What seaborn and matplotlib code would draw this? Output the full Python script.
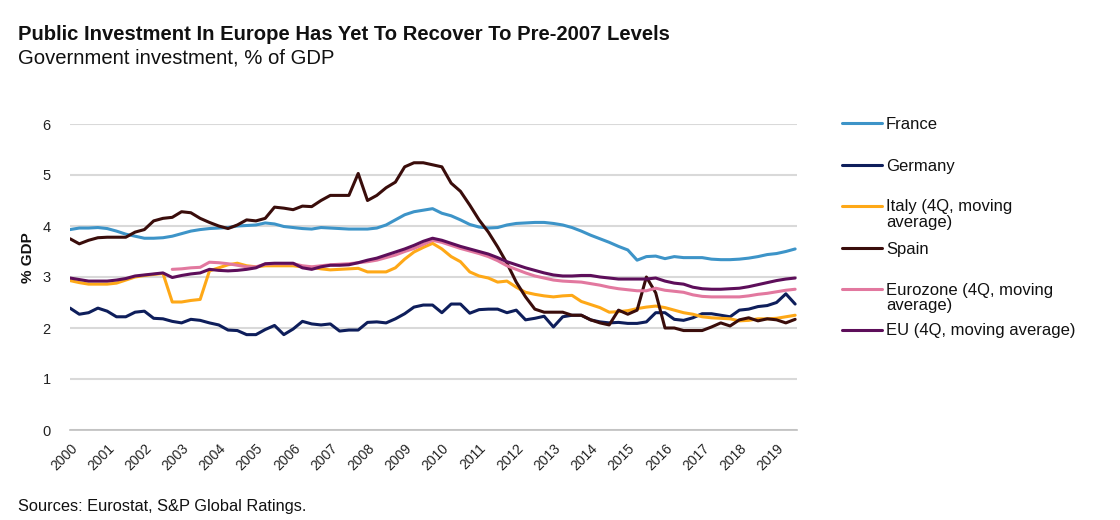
import numpy as np
import pandas as pd
import matplotlib
matplotlib.use("Agg")
import matplotlib.pyplot as plt
import seaborn as sns

# ============================================
# DATA: government investment, % of GDP (quarterly, 2000Q1 - 2019Q3)
# ============================================

quarters = pd.period_range("2000Q1", "2019Q3", freq="Q")

france = [3.93, 3.96, 3.96, 3.97, 3.95, 3.90, 3.84, 3.80, 3.76, 3.76, 3.77, 3.80, 3.85, 3.90, 3.93, 3.95,
          3.96, 3.97, 4.00, 4.01, 4.02, 4.06, 4.04, 3.99, 3.97, 3.95, 3.94, 3.97, 3.96, 3.95, 3.94, 3.94,
          3.94, 3.96, 4.02, 4.12, 4.22, 4.28, 4.31, 4.34, 4.25, 4.20, 4.12, 4.03, 3.98, 3.96, 3.97, 4.02,
          4.05, 4.06, 4.07, 4.07, 4.05, 4.02, 3.97, 3.90, 3.82, 3.75, 3.68, 3.60, 3.53, 3.33, 3.40, 3.41,
          3.36, 3.40, 3.38, 3.38, 3.38, 3.35, 3.34, 3.34, 3.35, 3.37, 3.40, 3.44, 3.46, 3.50, 3.55]

germany = [2.39, 2.27, 2.30, 2.39, 2.33, 2.22, 2.22, 2.31, 2.33, 2.19, 2.18, 2.13, 2.10, 2.17, 2.15, 2.10,
           2.06, 1.96, 1.95, 1.87, 1.87, 1.97, 2.05, 1.87, 1.98, 2.13, 2.08, 2.06, 2.08, 1.94, 1.96, 1.96,
           2.11, 2.12, 2.10, 2.18, 2.28, 2.41, 2.45, 2.45, 2.30, 2.47, 2.47, 2.29, 2.36, 2.37, 2.37, 2.30,
           2.35, 2.16, 2.19, 2.23, 2.02, 2.22, 2.25, 2.25, 2.16, 2.12, 2.10, 2.11, 2.09, 2.09, 2.12, 2.30,
           2.30, 2.17, 2.15, 2.20, 2.28, 2.28, 2.25, 2.22, 2.35, 2.37, 2.42, 2.44, 2.50, 2.67, 2.47]

italy = [2.93, 2.89, 2.86, 2.86, 2.86, 2.88, 2.94, 3.00, 3.03, 3.05, 3.07, 2.51, 2.51, 2.54, 2.56, 3.12,
         3.18, 3.24, 3.27, 3.22, 3.20, 3.22, 3.22, 3.22, 3.22, 3.20, 3.19, 3.16, 3.14, 3.15, 3.16, 3.17,
         3.10, 3.10, 3.10, 3.18, 3.35, 3.49, 3.58, 3.66, 3.55, 3.40, 3.30, 3.10, 3.02, 2.98, 2.90, 2.92,
         2.80, 2.70, 2.66, 2.63, 2.61, 2.63, 2.64, 2.52, 2.46, 2.40, 2.31, 2.32, 2.34, 2.38, 2.41, 2.43,
         2.40, 2.35, 2.30, 2.27, 2.22, 2.20, 2.19, 2.18, 2.14, 2.15, 2.18, 2.18, 2.19, 2.22, 2.25]

spain = [3.75, 3.65, 3.72, 3.77, 3.78, 3.78, 3.78, 3.88, 3.93, 4.10, 4.15, 4.17, 4.28, 4.26, 4.15, 4.07,
         4.00, 3.95, 4.02, 4.12, 4.10, 4.15, 4.37, 4.35, 4.32, 4.39, 4.38, 4.50, 4.60, 4.60, 4.60, 5.03,
         4.50, 4.60, 4.75, 4.86, 5.16, 5.24, 5.24, 5.20, 5.16, 4.84, 4.68, 4.41, 4.12, 3.88, 3.59, 3.27,
         2.90, 2.61, 2.37, 2.31, 2.31, 2.31, 2.25, 2.25, 2.16, 2.10, 2.06, 2.35, 2.27, 2.35, 3.00, 2.69,
         2.00, 2.00, 1.95, 1.95, 1.95, 2.02, 2.10, 2.04, 2.16, 2.20, 2.14, 2.18, 2.16, 2.10, 2.17]

# Eurozone series only starts in 2002Q4
eurozone = [np.nan] * 11 + [
    3.15, 3.16, 3.18, 3.19, 3.29, 3.28, 3.26, 3.23, 3.20, 3.20, 3.25, 3.26, 3.26, 3.26, 3.22, 3.20,
    3.22, 3.24, 3.25, 3.26, 3.28, 3.30, 3.33, 3.38, 3.43, 3.50, 3.56, 3.64, 3.72, 3.68, 3.62, 3.56,
    3.51, 3.46, 3.40, 3.32, 3.22, 3.15, 3.08, 3.02, 2.98, 2.94, 2.92, 2.91, 2.90, 2.87, 2.84, 2.80,
    2.77, 2.75, 2.73, 2.73, 2.78, 2.74, 2.72, 2.70, 2.65, 2.62, 2.61, 2.61, 2.61, 2.61, 2.63, 2.66,
    2.68, 2.71, 2.74, 2.76]

eu = [2.98, 2.95, 2.92, 2.92, 2.92, 2.94, 2.97, 3.02, 3.04, 3.06, 3.08, 2.99, 3.03, 3.06, 3.08, 3.15,
      3.13, 3.12, 3.13, 3.15, 3.18, 3.26, 3.27, 3.27, 3.27, 3.18, 3.15, 3.20, 3.23, 3.23, 3.24, 3.28,
      3.33, 3.37, 3.43, 3.49, 3.55, 3.62, 3.70, 3.76, 3.72, 3.66, 3.60, 3.55, 3.50, 3.45, 3.38, 3.30,
      3.24, 3.18, 3.13, 3.08, 3.04, 3.02, 3.02, 3.03, 3.03, 3.00, 2.98, 2.96, 2.96, 2.96, 2.96, 2.98,
      2.92, 2.88, 2.86, 2.80, 2.77, 2.76, 2.76, 2.77, 2.78, 2.81, 2.85, 2.89, 2.93, 2.96, 2.98]

series_names = ["France", "Germany", "Italy (4Q, moving\naverage)", "Spain",
                "Eurozone (4Q, moving\naverage)", "EU (4Q, moving average)"]
series_values = [france, germany, italy, spain, eurozone, eu]
series_colors = ["#3d94c8", "#0e1e5b", "#fea817", "#3a0d0b", "#e2789f", "#5d0e5a"]

year_ticks = list(range(2000, 2020))

# ============================================
# BUILD LONG TABLE FOR SEABORN
# ============================================

x_pos = quarters.year + (quarters.quarter - 1) / 4.0
frames = []
for name, vals in zip(series_names, series_values):
    frames.append(pd.DataFrame({"x": x_pos, "value": vals, "series": name}))
df = pd.concat(frames, ignore_index=True).dropna()

# ============================================
# PLOT
# ============================================

sns.set_theme(style="white")
plt.rcParams["font.family"] = ["Liberation Sans", "DejaVu Sans"]

fig = plt.figure(figsize=(11.2, 5.2), dpi=100)
ax = fig.add_axes([70 / 1120, 90 / 520, 727 / 1120, 306 / 520])

palette = dict(zip(series_names, series_colors))
sns.lineplot(data=df, x="x", y="value", hue="series", hue_order=series_names,
             palette=palette, estimator=None, linewidth=2.2, legend=False, ax=ax)

ax.set_xlim(2000, 2019.55)
ax.set_ylim(0, 6)
ax.set_yticks(range(0, 7))
ax.set_xticks(year_ticks)
ax.set_xticklabels([str(y) for y in year_ticks], rotation=45, ha="right",
                   rotation_mode="anchor", fontsize=10)
ax.tick_params(axis="y", length=0, labelsize=10.5, pad=14, colors="#222222")
ax.tick_params(axis="x", length=5, width=1, color="#bfbfbf", direction="out",
               labelsize=10, pad=3, labelcolor="#222222")
ax.grid(axis="y", color="#d9d9d9", linewidth=1.5)
ax.set_axisbelow(True)
for side in ["top", "right", "left"]:
    ax.spines[side].set_visible(False)
ax.spines["bottom"].set_color("#bfbfbf")
ax.spines["bottom"].set_linewidth(1.2)
ax.set_xlabel("")
ax.set_ylabel("")

# y axis label
fig.text(28 / 1120, 1 - 258 / 520, "% GDP", rotation=90, ha="center", va="center",
         fontsize=11, fontweight="bold", color="#111111")

# Titles and source
fig.text(18 / 1120, 1 - 35 / 520, "Public Investment In Europe Has Yet To Recover To Pre-2007 Levels",
         fontsize=14.6, fontweight="bold", va="center", ha="left", color="#111111")
fig.text(18 / 1120, 1 - 58 / 520, "Government investment, % of GDP",
         fontsize=14.6, va="center", ha="left", color="#111111")
fig.text(18 / 1120, 1 - 507 / 520, "Sources: Eurostat, S&P Global Ratings.",
         fontsize=11.8, va="center", ha="left", color="#111111")

# Legend on the right (handle aligned with first line of each label)
legend_rows = [123, 165, 206, 248, 289, 330]
for name, color, row in zip(series_names, series_colors, legend_rows):
    y = 1 - row / 520
    fig.add_artist(plt.Line2D([842 / 1120, 882 / 1120], [y, y], color=color, linewidth=2.2))
    fig.text(886 / 1120, y + 6.5 / 520, name, fontsize=12, va="top", ha="left",
             linespacing=1.05, color="#111111")

fig.savefig("out.png", dpi=100)
